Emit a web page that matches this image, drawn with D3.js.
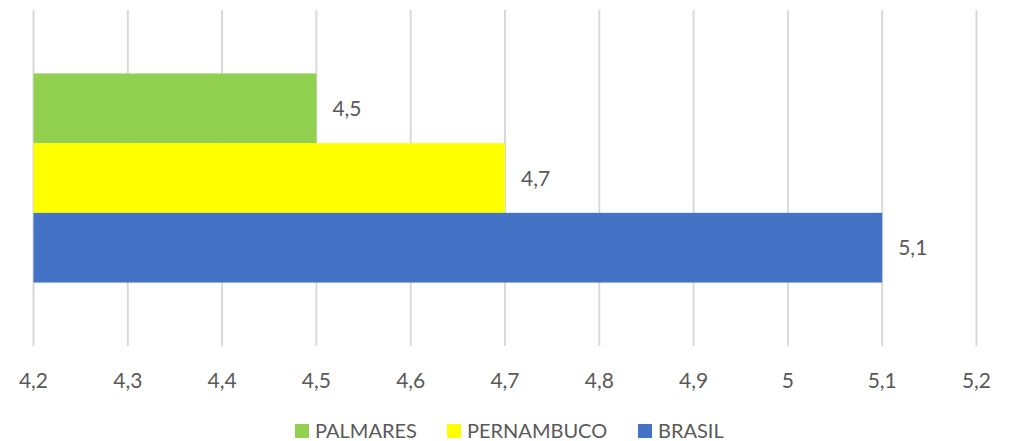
<!DOCTYPE html>
<html>
<head>
<meta charset="utf-8">
<script src="https://cdn.jsdelivr.net/npm/d3@7"></script>
<style>
  body { margin: 0; background: #fff; }
  text { font-family: Lato, "Open Sans", sans-serif; fill: #595959; }
</style>
</head>
<body>
<svg id="chart" width="1019" height="441"></svg>
<script>
// series (one category, three bars)
const series = ["PALMARES", "PERNAMBUCO", "BRASIL"];
const values = [4.5, 4.7, 5.1];
const colors = ["#92d050", "#ffff00", "#4472c4"];
const ticks = [4.2, 4.3, 4.4, 4.5, 4.6, 4.7, 4.8, 4.9, 5.0, 5.1, 5.2];

let svg = d3.select("#chart");
let fmt = v => d3.format("~g")(v).replace(".", ",");

let x = d3.scaleLinear().domain([4.2, 5.2]).range([33.5, 976.5]);
let y = d3.scaleBand().domain(series).range([10, 346]).paddingInner(0).paddingOuter(0.91);

// gridlines
svg.append("g").selectAll("line")
  .data(ticks)
  .enter()
  .append("line")
  .attr("x1", d => x(d)).attr("x2", d => x(d))
  .attr("y1", 10).attr("y2", 346)
  .attr("stroke", "#d9d9d9")
  .attr("stroke-width", 2);

// tick labels
svg.append("g").selectAll("text")
  .data(ticks)
  .enter()
  .append("text")
  .attr("x", d => x(d))
  .attr("y", 388)
  .attr("text-anchor", "middle")
  .attr("font-size", 21)
  .text(d => fmt(d));

// bars
let rows = series.map((s, i) => ({name: s, value: values[i], color: colors[i]}));

svg.append("g").selectAll("rect")
  .data(rows)
  .enter()
  .append("rect")
  .attr("x", x(4.2))
  .attr("y", d => y(d.name))
  .attr("width", d => x(d.value) - x(4.2))
  .attr("height", y.bandwidth())
  .attr("fill", d => d.color);

// data labels
svg.append("g").selectAll("text")
  .data(rows)
  .enter()
  .append("text")
  .attr("x", d => x(d.value) + 16)
  .attr("y", d => y(d.name) + y.bandwidth() / 2)
  .attr("dy", "0.36em")
  .attr("font-size", 21)
  .text(d => fmt(d.value));

// legend
let legendX = [295, 447, 638];
let legend = svg.append("g").selectAll("g")
  .data(rows)
  .enter()
  .append("g")
  .attr("transform", (d, i) => "translate(" + legendX[i] + ",424)");

legend.append("rect")
  .attr("width", 14).attr("height", 14)
  .attr("fill", d => d.color);

legend.append("text")
  .attr("x", 20)
  .attr("y", 14)
  .attr("font-size", 20)
  .text(d => d.name);
</script>
</body>
</html>
